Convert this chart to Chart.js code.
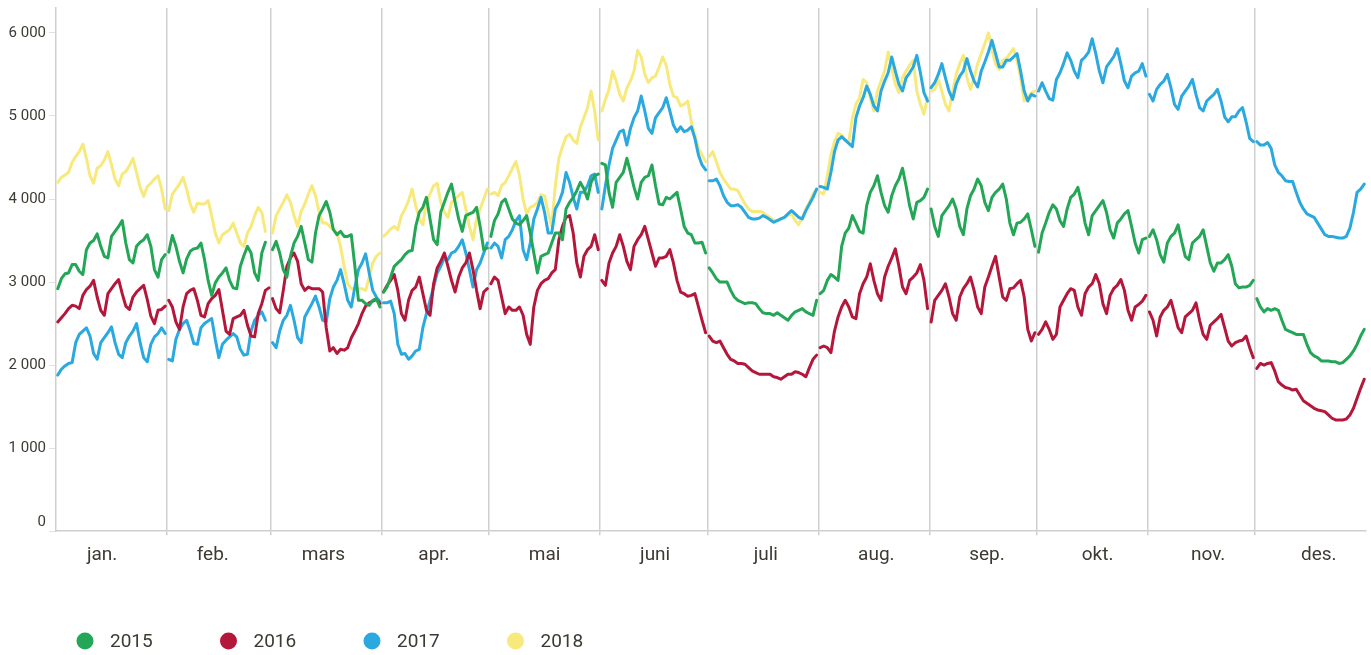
<!DOCTYPE html>
<html>
<head>
<meta charset="utf-8">
<script src="https://cdn.jsdelivr.net/npm/chart.js@4.4.1/dist/chart.umd.min.js"></script>
<style>
  html, body { margin: 0; padding: 0; background: #fff; }
</style>
</head>
<body>
<canvas id="chart" width="1371" height="655"></canvas>
<script>
const monthLabels = ['jan.', 'feb.', 'mars', 'apr.', 'mai', 'juni', 'juli', 'aug.', 'sep.', 'okt.', 'nov.', 'des.'];
const monthDays = [31, 29, 31, 30, 31, 30, 31, 31, 30, 31, 30, 31];
// month names sit at even steps, not exactly at the middle of each month
const monthLabelDays = [12.9, 43.8, 74.7, 105.6, 136.5, 167.4, 198.3, 229.2, 260.1, 291.0, 321.9, 352.8];
const yearLabels = ['2015', '2016', '2017', '2018'];
const yearColors = ['#23a656', '#b5173b', '#29a9e0', '#f8e97c'];
const yTicks = [0, 1000, 2000, 3000, 4000, 5000, 6000];

// daily values, one array per month
const s2015 = [
  [2920,3040,3100,3110,3210,3210,3130,3090,3390,3470,3500,3580,3430,3310,3290,3550,3610,3670,3740,3470,3270,3230,3430,3480,3510,3570,3430,3150,3060,3270,3330],
  [3360,3560,3430,3250,3110,3280,3370,3400,3410,3470,3270,3020,2840,2990,3060,3110,3170,3020,2930,2920,3190,3320,3430,3350,3110,3020,3350,3480],
  [3390,3490,3350,3150,3060,3310,3470,3550,3670,3470,3270,3240,3590,3800,3880,3970,3840,3630,3570,3610,3550,3550,3570,3190,2780,2780,2740,2720,2780,2800,2700],
  [2880,2940,3060,3190,3230,3270,3330,3370,3380,3670,3840,3900,4020,3760,3510,3450,3840,3960,4080,4180,3960,3760,3610,3800,3820,3840,3900,3670,3390,3410],
  [3550,3740,3820,3960,4000,3880,3760,3710,3690,3740,3800,3590,3350,3110,3310,3330,3350,3470,3590,3590,3510,3880,3960,4020,4100,4200,4120,4000,4200,4280,4300],
  [4430,4410,4080,3900,4200,4260,4320,4490,4320,4140,4000,4200,4260,4280,4410,4160,3940,3930,4020,4000,4040,4080,3880,3670,3590,3570,3470,3470,3480,3350],
  [3170,3110,3040,3000,3000,3000,2900,2820,2780,2760,2740,2750,2750,2740,2680,2630,2620,2620,2600,2630,2600,2570,2540,2600,2640,2660,2680,2640,2620,2600,2780],
  [2860,2900,3020,3090,3060,3020,3430,3590,3650,3800,3710,3610,3590,3920,4080,4160,4280,4080,3920,3840,4040,4160,4240,4370,4160,3920,3760,3960,3980,4020,4120],
  [3880,3670,3550,3800,3860,3920,4000,3880,3670,3570,3880,4040,4120,4240,4160,3960,3860,4020,4080,4120,4180,4000,3710,3570,3710,3720,3760,3820,3630,3430],
  [3360,3590,3710,3840,3930,3880,3740,3670,3880,4020,4060,4140,3960,3710,3570,3800,3860,3920,3980,3840,3630,3530,3710,3760,3820,3860,3670,3470,3350,3510,3530],
  [3550,3630,3510,3330,3240,3470,3550,3590,3690,3490,3310,3270,3470,3510,3550,3630,3430,3230,3130,3230,3230,3270,3330,3190,2980,2930,2940,2940,2960,3020],
  [2800,2700,2640,2680,2660,2680,2660,2540,2430,2410,2390,2370,2370,2370,2250,2150,2110,2090,2050,2050,2050,2040,2040,2020,2030,2070,2110,2170,2250,2350,2430]
];

const s2016 = [
  [2520,2570,2620,2680,2720,2710,2680,2840,2910,2950,3020,2820,2660,2600,2860,2920,2980,3030,2860,2710,2670,2820,2880,2920,2960,2790,2590,2500,2660,2670,2710],
  [2780,2700,2520,2430,2700,2860,2900,2920,2780,2600,2580,2740,2800,2840,2910,2660,2410,2370,2560,2580,2600,2660,2480,2350,2340,2620,2740,2900,2930],
  [2800,2680,2630,2900,3190,3290,3350,3250,2980,2900,2940,2920,2920,2920,2880,2450,2170,2210,2140,2190,2180,2210,2330,2410,2500,2620,2710,2750,2770,2790,2740],
  [2880,2960,3020,3090,2900,2620,2540,2780,2900,2940,3060,2860,2660,2600,2980,3170,3250,3350,3190,3020,2880,3060,3170,3230,3350,3150,2900,2680,2880,2920],
  [2980,3060,3020,2820,2620,2700,2660,2660,2700,2600,2370,2250,2700,2900,2980,3020,3040,3110,3150,3510,3670,3780,3800,3590,3230,3060,3310,3390,3430,3570,3390],
  [3020,2960,3230,3350,3430,3570,3430,3250,3150,3430,3510,3570,3670,3510,3350,3190,3290,3290,3310,3390,3230,3020,2880,2860,2830,2840,2860,2700,2540,2390],
  [2350,2290,2270,2290,2210,2130,2070,2050,2020,2020,2010,1970,1930,1910,1890,1890,1890,1890,1860,1850,1830,1860,1890,1890,1920,1910,1890,1860,1970,2070,2120],
  [2210,2230,2210,2150,2410,2580,2700,2780,2700,2580,2560,2860,2980,3060,3220,3020,2860,2780,3060,3190,3290,3400,3190,2940,2860,3020,3060,3110,3210,3020,2680],
  [2520,2780,2840,2900,2980,2820,2620,2540,2820,2920,2980,3060,2900,2700,2620,2940,3060,3190,3310,3060,2820,2780,2920,2930,2980,3020,2820,2430,2290,2390],
  [2370,2430,2520,2430,2310,2370,2700,2780,2860,2920,2900,2700,2600,2860,2940,2980,3090,2980,2740,2620,2840,2920,2960,3030,2900,2660,2540,2700,2730,2770,2840],
  [2640,2540,2350,2580,2660,2700,2780,2620,2450,2390,2580,2620,2660,2750,2540,2370,2310,2480,2520,2560,2610,2450,2290,2230,2270,2290,2300,2350,2210,2090],
  [1960,2020,2000,2020,2030,1930,1800,1760,1730,1720,1700,1710,1640,1570,1540,1510,1480,1460,1450,1440,1400,1360,1340,1340,1340,1350,1400,1480,1600,1720,1830]
];

const s2017 = [
  [1880,1950,1990,2020,2030,2270,2370,2410,2450,2350,2140,2070,2270,2330,2390,2460,2270,2130,2090,2270,2350,2410,2500,2270,2090,2040,2250,2340,2380,2450,2380],
  [2070,2050,2310,2430,2500,2540,2410,2260,2250,2450,2500,2530,2560,2310,2090,2250,2300,2340,2380,2340,2190,2120,2130,2410,2540,2600,2640,2540],
  [2270,2210,2410,2540,2600,2720,2540,2330,2270,2580,2660,2740,2830,2700,2540,2520,2800,2940,3020,3150,2980,2780,2700,2940,3150,3230,3340,3110,2900,2820,2760],
  [2750,2750,2770,2620,2250,2130,2140,2070,2110,2170,2190,2450,2620,2780,2940,3110,3190,3290,3270,3350,3370,3430,3510,3350,3150,2940,3150,3230,3350,3470],
  [3410,3470,3430,3290,3510,3550,3630,3740,3800,3390,3270,3470,3760,3880,4020,3840,3590,3590,3880,3960,4080,4320,4200,4020,3880,4080,4080,4160,4280,4300,4080],
  [3880,4160,4410,4610,4710,4810,4830,4650,4850,4980,5060,5240,5060,4850,4790,4980,5040,5100,5220,5060,4890,4810,4870,4810,4830,4870,4730,4530,4410,4350],
  [4220,4220,4240,4160,4040,3960,3920,3920,3930,3900,3840,3780,3760,3760,3770,3800,3780,3750,3720,3740,3760,3780,3820,3860,3820,3780,3760,3860,3940,4020,4120],
  [4150,4140,4120,4320,4570,4710,4750,4710,4670,4630,4980,5120,5220,5360,5260,5120,5060,5300,5420,5520,5710,5540,5380,5300,5460,5520,5590,5730,5520,5280,5180],
  [5340,5400,5500,5630,5460,5300,5200,5380,5480,5540,5690,5540,5420,5350,5540,5650,5770,5910,5750,5590,5590,5670,5670,5710,5750,5540,5300,5180,5260,5240],
  [5300,5400,5300,5210,5190,5440,5520,5630,5760,5670,5540,5460,5670,5710,5770,5930,5750,5540,5400,5590,5650,5710,5810,5630,5420,5340,5480,5520,5540,5630,5480],
  [5260,5180,5320,5380,5420,5500,5340,5140,5080,5240,5300,5360,5440,5260,5100,5060,5180,5220,5260,5320,5180,4990,4930,4990,4990,5060,5100,4930,4730,4690],
  [4690,4650,4650,4680,4610,4410,4320,4280,4220,4210,4210,4080,3960,3880,3820,3800,3780,3710,3640,3570,3550,3550,3540,3530,3530,3550,3650,3840,4080,4120,4180]
];

const s2018 = [
  [4200,4260,4290,4320,4440,4510,4570,4660,4490,4280,4190,4370,4400,4470,4570,4410,4240,4160,4300,4330,4400,4490,4320,4140,4030,4150,4190,4240,4280,4120,3880],
  [3860,4060,4120,4180,4260,4120,3940,3840,3950,3940,3940,3980,3800,3590,3470,3570,3600,3630,3710,3590,3470,3430,3590,3670,3800,3900,3840,3610],
  [3590,3800,3880,3960,4050,3960,3800,3670,3850,3940,4060,4160,4040,3840,3710,3710,3670,3630,3590,3430,3190,2980,2920,2920,2920,2920,2900,3060,3230,3310,3350],
  [3550,3590,3640,3670,3630,3800,3880,3980,4120,3920,3760,3690,3960,4060,4160,4190,3960,3840,3780,3960,4000,4040,4080,3880,3670,3510,3760,3880,4000,4120],
  [4060,4080,4040,4160,4200,4280,4370,4450,4280,4000,3820,3900,3920,3960,4050,4040,3840,3670,4160,4490,4630,4750,4780,4710,4670,4870,4980,5100,5300,5060,4710],
  [5060,5200,5320,5540,5420,5260,5180,5340,5420,5540,5790,5710,5500,5400,5460,5480,5590,5710,5610,5380,5240,5220,5120,5140,5180,4930,4770,4610,4530,4450],
  [4510,4570,4450,4320,4240,4180,4120,4120,4100,4020,3940,3880,3850,3850,3850,3840,3800,3780,3740,3740,3760,3780,3800,3820,3740,3690,3780,3880,3960,4060,4120],
  [4080,4060,4280,4530,4690,4790,4770,4710,4690,4980,5140,5220,5440,5400,5220,5060,5300,5420,5540,5770,5580,5380,5280,5460,5540,5610,5670,5300,5140,5020,5220],
  [5300,5320,5440,5300,5140,5060,5300,5500,5630,5730,5460,5320,5460,5630,5750,5870,6000,5790,5630,5560,5670,5690,5750,5810,5670,5460,5180,5220,5280,5300],
  [], [], []
];

const seriesByYear = [s2015, s2016, s2017, s2018];

// month boundaries in days (leap-year axis)
const monthStart = [0];
monthDays.forEach((d, i) => monthStart.push(monthStart[i] + d));
const boundarySet = new Set(monthStart.slice(1, 12));

const toPoints = (months) => {
  const pts = [];
  months.forEach((vals, m) => {
    vals.forEach((v, i) => pts.push({ x: monthStart[m] + i + 0.5, y: v }));
    pts.push({ x: monthStart[m + 1], y: null }); // break the line at month end
  });
  return pts;
};

const textColor = '#3d3a33';
const gridColor = '#cfcfcf';

const gridOnBoundary = (ctx) => (ctx.tick && boundarySet.has(ctx.tick.value)) ? gridColor : 'rgba(0,0,0,0)';

const bottomLegend = {
  id: 'bottomLegend',
  afterDraw(chart) {
    const ctx = chart.ctx;
    ctx.save();
    ctx.font = '19px Roboto';
    ctx.textBaseline = 'middle';
    ctx.textAlign = 'left';
    chart.data.datasets.forEach((ds, i) => {
      const cx = chart.chartArea.left + 29 + i * 143.5;
      const cy = 641;
      ctx.fillStyle = ds.borderColor;
      ctx.beginPath();
      ctx.arc(cx, cy, 8.5, 0, Math.PI * 2);
      ctx.fill();
      ctx.fillStyle = textColor;
      ctx.fillText(ds.label, cx + 25, cy + 1);
    });
    ctx.restore();
  }
};

const datasets = yearLabels.map((label, i) => ({
  label: label,
  data: toPoints(seriesByYear[i]),
  borderColor: yearColors[i],
  backgroundColor: yearColors[i],
  borderWidth: 3,
  pointRadius: 0,
  tension: 0,
  spanGaps: false,
  borderJoinStyle: 'round',
  borderCapStyle: 'round',
  fill: false
}));

new Chart(document.getElementById('chart'), {
  type: 'line',
  data: { datasets: datasets },
  plugins: [bottomLegend],
  options: {
    responsive: false,
    animation: false,
    devicePixelRatio: 1,
    layout: { padding: { left: 0, right: 5, top: 0, bottom: 79 } },
    plugins: {
      legend: { display: false },
      tooltip: { enabled: false }
    },
    scales: {
      x: {
        type: 'linear',
        min: 0,
        max: monthStart[12],
        afterBuildTicks: (scale) => {
          const vals = monthStart.slice(0, 12).concat(monthLabelDays).sort((a, b) => a - b);
          scale.ticks = vals.map(v => ({ value: v }));
        },
        ticks: {
          autoSkip: false,
          maxRotation: 0,
          padding: 9,
          color: textColor,
          font: { family: 'Roboto', size: 19 },
          callback: (value) => {
            const idx = monthLabelDays.indexOf(value);
            return idx >= 0 ? monthLabels[idx] : '';
          }
        },
        grid: {
          color: gridOnBoundary,
          tickColor: gridOnBoundary,
          lineWidth: 1.5,
          drawTicks: true,
          tickLength: 4
        },
        border: { display: true, color: gridColor, width: 1.5 }
      },
      y: {
        min: 0,
        max: 6300,
        afterBuildTicks: (scale) => {
          scale.ticks = yTicks.map(v => ({ value: v }));
        },
        afterFit: (scale) => {
          scale.width = 56;
          scale.paddingTop = 8;
          scale.paddingBottom = 0;
        },
        ticks: {
          padding: 3,
          color: textColor,
          font: { family: 'Roboto', size: 15 },
          // the zero label sits a little above the axis line
          callback: (value) => value === 0 ? ['0', ''] : (value / 1000) + ' 000'
        },
        grid: {
          color: 'rgba(0,0,0,0)',
          tickColor: '#e2e2e2',
          drawTicks: true,
          tickLength: 7
        },
        border: { display: true, color: gridColor, width: 1.5 }
      }
    }
  }
});
</script>
</body>
</html>
